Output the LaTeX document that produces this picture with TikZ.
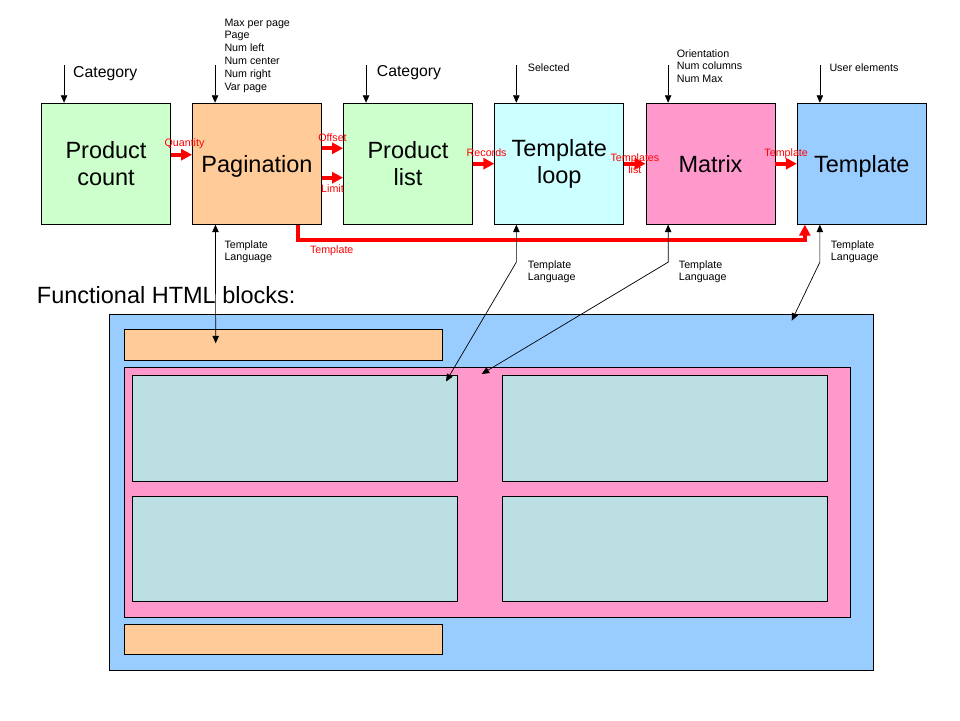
\documentclass[tikz,border=0pt]{standalone}
\usepackage{fontspec}
\setmainfont{Liberation Sans}
\usetikzlibrary{
    calc,
    arrows.meta
}
\definecolor{cgreen}{HTML}{CCFFCC}
\definecolor{corange}{HTML}{FFCC99}
\definecolor{ccyan}{HTML}{CCFFFF}
\definecolor{cpink}{HTML}{FF99CC}
\definecolor{cblue}{HTML}{99CCFF}
\definecolor{cteal}{HTML}{BBDFE2}
\tikzset{
    box/.style={draw, line width=0.9pt, minimum width=129pt, minimum height=121pt, align=center, font=\fontsize{23.5}{27}\selectfont},
    blk/.style={draw, line width=0.9pt, inner sep=0pt},
    inarrow/.style={-{Triangle[length=7.5pt,width=6.5pt]}, line width=0.7pt},
    tlarrow/.style={{Triangle[length=7.5pt,width=6.5pt]}-{Triangle[length=7.5pt,width=6.5pt]}, line width=0.7pt},
    redarrow/.style={-{Triangle[length=11pt,width=11pt]}, line width=4pt, red},
    redlbl/.style={text=red, inner sep=0pt, font=\fontsize{10.7}{12}\selectfont},
    note/.style={anchor=west, align=left, inner sep=0pt, font=\fontsize{10.7}{12.8}\selectfont},
    catlbl/.style={anchor=west, inner sep=0pt, font=\fontsize{15.8}{18}\selectfont}
}

\begin{document}
\begin{tikzpicture}[x=1pt,y=-1pt]
    \useasboundingbox (0,0) rectangle (960,720);

    % processing chain
    \draw (106,163.7) node[box, fill=cgreen](pc){Product\\count};
    \draw (257,163.7) node[box, fill=corange, text depth=0pt](pg){Pagination};
    \draw (408,163.7) node[box, fill=cgreen](pl){Product\\list};
    \draw (559.3,163.7) node[box, fill=ccyan](tl){Template\\loop};
    \draw (710.5,163.7) node[box, fill=cpink](mx){Matrix};
    \draw (861.8,163.7) node[box, fill=cblue, text depth=0pt](tp){Template};

    % parameters
    \coordinate (inpc) at ($(pc.north west)+(23,-38)$);
    \coordinate (inpg) at ($(pg.north west)+(23,-38)$);
    \coordinate (inpl) at ($(pl.north west)+(23,-38)$);
    \coordinate (intl) at ($(tl.north west)+(22,-38)$);
    \coordinate (inmx) at ($(mx.north west)+(22.6,-38)$);
    \coordinate (intp) at ($(tp.north west)+(23,-38)$);
    \draw[inarrow] (inpc) -- ([xshift=23pt]pc.north west);
    \draw[inarrow] (inpg) -- ([xshift=23pt]pg.north west);
    \draw[inarrow] (inpl) -- ([xshift=23pt]pl.north west);
    \draw[inarrow] (intl) -- ([xshift=22pt]tl.north west);
    \draw[inarrow] (inmx) -- ([xshift=22.6pt]mx.north west);
    \draw[inarrow] (intp) -- ([xshift=23pt]tp.north west);

    \draw (73,74) node[catlbl](pccat){Category};
    \draw (224.3,55.5) node[note](pgpar){Max per page\\Page\\Num left\\Num center\\Num right\\Var page};
    \draw (376.7,73) node[catlbl](plcat){Category};
    \draw (527.7,68) node[note](tlsel){Selected};
    \draw (676.7,66) node[note](mxpar){Orientation\\Num columns\\Num Max};
    \draw (829.3,68) node[note](tpusr){User elements};

    % data flow
    \draw[redarrow] ([yshift=9pt]pc.east) -- ([yshift=9pt]pg.west) node[midway, redlbl, xshift=3pt, yshift=11pt]{Quantity};
    \draw[redarrow] ([yshift=15.4pt]pg.east) -- ([yshift=15.4pt]pl.west) node[midway, redlbl, yshift=10.6pt]{Offset};
    \draw[redarrow] ([yshift=-14pt]pg.east) -- ([yshift=-14pt]pl.west) node[midway, redlbl, yshift=-11.3pt]{Limit};
    \draw[redarrow] (pl) -- (tl) node[midway, redlbl, xshift=3pt, yshift=11.5pt]{Records};
    \draw[redarrow] (tl) -- (mx) node[midway, redlbl, align=center]{Templates\\list};
    \draw[redarrow] (mx) -- (tp) node[midway, redlbl, yshift=9.5pt]{Template};
    \draw[redarrow] ([xshift=41pt]pg.south) -- ++(0,15) node[redlbl, anchor=west, xshift=10pt, yshift=-10.7pt]{Template} -| ([xshift=8pt]tp.south west);

    % functional html blocks
    \draw (36.7,295) node[anchor=west, inner sep=0pt, font=\fontsize{23.5}{27}\selectfont](fhtml){Functional HTML blocks:};

    \draw (491.3,492.3) node[blk, fill=cblue, minimum width=764pt, minimum height=356pt](page){};
    \draw (283.5,344.8) node[blk, fill=corange, minimum width=318.4pt, minimum height=31pt](pgtop){};
    \draw (487.3,492.3) node[blk, fill=cpink, minimum width=726pt, minimum height=249.3pt](grid){};
    \draw (295,428.3) node[blk, fill=cteal, minimum width=325.4pt, minimum height=106pt](c11){};
    \draw (665,428.3) node[blk, fill=cteal, minimum width=325.4pt, minimum height=106pt](c12){};
    \draw (295,548.8) node[blk, fill=cteal, minimum width=325.4pt, minimum height=105pt](c21){};
    \draw (665,548.8) node[blk, fill=cteal, minimum width=325.4pt, minimum height=105pt](c22){};
    \draw (283.5,639.3) node[blk, fill=corange, minimum width=318.4pt, minimum height=30pt](pgbot){};

    % template language links
    \coordinate (pgend) at (215.7,343.3);
    \coordinate (tlend) at (446,381.5);
    \coordinate (mxend) at (481.7,374);
    \coordinate (tpend) at (791.7,320.7);
    \draw[tlarrow] ([xshift=23.4pt]pg.south west) -- (pgend);
    \draw[tlarrow] ([xshift=22pt]tl.south west) -- ++(0,37.5) -- (tlend);
    \draw[tlarrow] ([xshift=22.6pt]mx.south west) -- ++(0,37.5) -- (mxend);
    \draw[tlarrow] ([xshift=23pt]tp.south west) -- ++(0,37.5) -- (tpend);

    \draw (224.3,251.7) node[note](pglang){Template\\Language};
    \draw (527.7,271.7) node[note](tllang){Template\\Language};
    \draw (678.7,271.7) node[note](mxlang){Template\\Language};
    \draw (830.7,251.7) node[note](tplang){Template\\Language};
\end{tikzpicture}
\end{document}
